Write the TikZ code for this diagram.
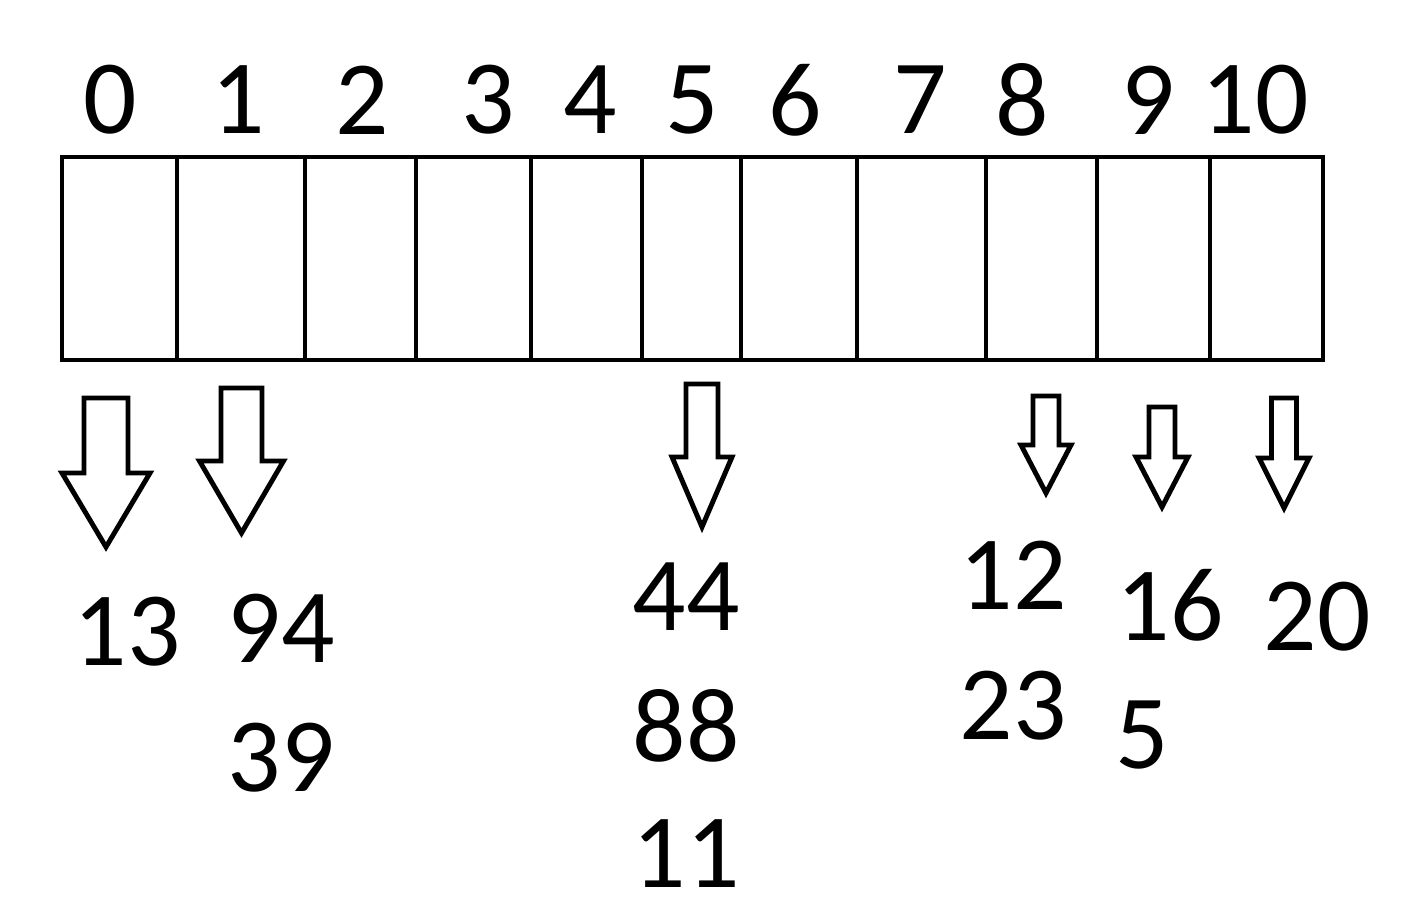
\documentclass[tikz,border=0pt]{standalone}
\usepackage{fontspec}
\setmainfont{Carlito}
\begin{document}
\begin{tikzpicture}[
x=0.02cm, y=-0.02cm,
line width=2.8pt,
cell/.style={draw, line width=2.8pt, minimum height=4.06cm, inner sep=0pt},
num/.style={font=\fontsize{60}{68}\selectfont, inner sep=0pt}
]
\useasboundingbox (0,0) rectangle (1417,916);
% the table
\foreach \a/\b [count=\i from 0] in {62/177,177/305,305/416,416/531,531/642,642/741,741/857,857/986,986/1097,1097/1210,1210/1323}
  \node[cell, minimum width={(\b-\a)*0.02cm}] (c\i) at ({(\a+\b)/2},258.5) {};
% indices
\foreach \x/\i in {110/0,238/1,362/2,488/3,590/4,692/5,795/6,920/7,1022/8,1148/9,1255/10}
  \node[num] (i\i) at (\x,100) {\i};
% block arrows
\foreach \x/\t/\h/\s/\w/\e [count=\k] in {106/398/473/22/44/547,241.5/388/461/20.5/42/533,702/384/457/16/30/527,1046/396/445/13/25/493,1162/407/457/13/26/507,1284/398/458/12.5/25/508}
  \draw[line join=miter] ({\x-\s},\t) -- ({\x+\s},\t) -- ({\x+\s},\h) -- ({\x+\w},\h)
    -- (\x,\e) -- ({\x-\w},\h) -- ({\x-\s},\h) -- cycle;
% chained keys
\node[num] (k13) at (127,632) {13};
\node[num] (k94) at (281,628) {94};
\node[num] (k39) at (281,758) {39};
\node[num] (k44) at (686,597) {44};
\node[num] (k88) at (686,726) {88};
\node[num] (k11) at (686,854) {11};
\node[num] (k12) at (1013,575) {12};
\node[num] (k23) at (1013,706) {23};
\node[num] (k16) at (1170,605) {16};
\node[num] (k5) at (1142,735) {5};
\node[num] (k20) at (1317,617) {20};
\end{tikzpicture}
\end{document}
